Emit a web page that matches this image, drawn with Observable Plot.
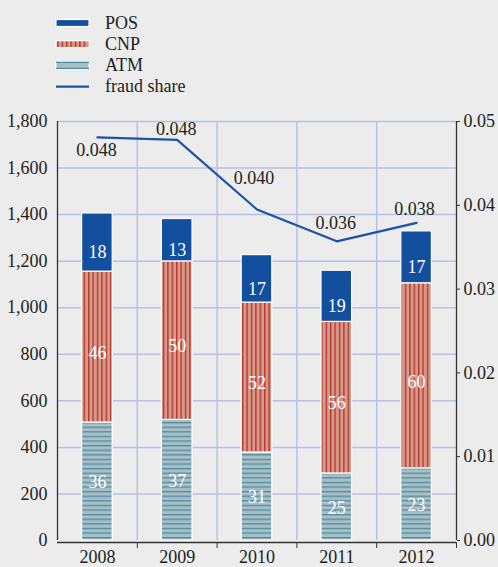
<!DOCTYPE html>
<html>
<head>
<meta charset="utf-8">
<script src="https://cdn.jsdelivr.net/npm/d3@7"></script>
<script src="https://cdn.jsdelivr.net/npm/@observablehq/plot@0.6"></script>
<style>
  html, body { margin: 0; padding: 0; background: #ebeceb; }
  body { width: 498px; height: 567px; overflow: hidden; font-family: "Liberation Serif", serif; }
  #legend, #chart svg { display: block; }
  svg text { font-family: "Liberation Serif", serif !important; }
</style>
</head>
<body>
<svg id="defs" width="0" height="0" style="position:absolute">
  <defs>
    <pattern id="cnpPat" patternUnits="userSpaceOnUse" width="4.4" height="10">
      <rect width="4.4" height="10" fill="#d9998a"></rect>
      <rect x="0" width="1.4" height="10" fill="#b2392d"></rect>
    </pattern>
    <pattern id="atmPat" patternUnits="userSpaceOnUse" width="10" height="4.6">
      <rect width="10" height="4.6" fill="#a9bfc8"></rect>
      <rect y="0" width="10" height="1.3" fill="#4f8c9c"></rect>
    </pattern>
  </defs>
</svg>
<svg id="legend" width="498" height="100"></svg>
<div id="chart"></div>
<script>
// ---- data ----
const years = [2008, 2009, 2010, 2011, 2012];
const series = ["ATM", "CNP", "POS"];
const atmValues = [507, 518, 378, 288, 310];
const cnpValues = [648, 681, 644, 651, 795];
const posValues = [250, 182, 204, 220, 223];
const atmShare = [36, 37, 31, 25, 23];
const cnpShare = [46, 50, 52, 56, 60];
const posShare = [18, 13, 17, 19, 17];
const fraudShare = [0.0481, 0.0478, 0.0395, 0.0357, 0.0379];
const fraudLabels = ["0.048", "0.048", "0.040", "0.036", "0.038"];
const leftTicks = [0, 200, 400, 600, 800, 1000, 1200, 1400, 1600, 1800];
const rightTicks = [0, 0.01, 0.02, 0.03, 0.04, 0.05];
const legendItems = ["POS", "CNP", "ATM", "fraud share"];

// ---- styles ----
const colors = { POS: "#134f9f", CNP: "url(#cnpPat)", ATM: "url(#atmPat)", line: "#1d52a8", grid: "#b8c0e8", axis: "#333" };
const font = "Liberation Serif";
const k = leftTicks[leftTicks.length - 1] / rightTicks[rightTicks.length - 1]; // right -> left scale

// ---- build tables ----
const wide = years.map((y, i) => ({ year: y, ATM: atmValues[i], CNP: cnpValues[i], POS: posValues[i] }));
const shares = { ATM: atmShare, CNP: cnpShare, POS: posShare };
const stacked = d3.stack().keys(series)(wide);
const rows = stacked.flatMap(layer => layer.map((s, i) => ({
  year: years[i], series: layer.key, y1: s[0], y2: s[1], share: shares[layer.key][i]
})));
const lineData = years.map((y, i) => ({ year: y, v: fraudShare[i] * k, label: fraudLabels[i] }));
const boundaries = years.map(y => y + 0.5);
const labelDy = [13, -11, -31, -18, -14];
const labelDx = [-1, -1, -3, -1, -2];
const textDy = { POS: 10, CNP: 6, ATM: 1 };

const chart = Plot.plot({
  width: 498,
  height: 467,
  marginTop: 21,
  marginBottom: 27,
  marginLeft: 57,
  marginRight: 42,
  style: { background: "transparent", fontFamily: font, fontSize: "18px", color: "#222" },
  x: { type: "linear", domain: [years[0] - 0.5, years[years.length - 1] + 0.5] },
  y: { domain: [0, 1800] },
  color: { type: "ordinal", domain: series, range: series.map(s => colors[s]) },
  marks: [
    Plot.ruleY(leftTicks.slice(1), { stroke: colors.grid, strokeWidth: 1.5 }),
    Plot.ruleX(boundaries.slice(0, -1), { y1: 0, y2: 1800, stroke: colors.grid, strokeWidth: 1.5 }),
    Plot.rect(rows, {
      x1: d => d.year - 0.5, x2: d => d.year + 0.5, y1: "y1", y2: "y2",
      fill: "series", stroke: "white", strokeWidth: 1.2, insetLeft: 24.6, insetRight: 24.6
    }),
    ...series.map(s => Plot.text(rows.filter(d => d.series === s), {
      x: "year", y: d => (d.y1 + d.y2) / 2, text: d => String(d.share),
      fill: "white", fontSize: 18, fontFamily: font, dy: textDy[s]
    })),
    Plot.line(lineData, { x: "year", y: "v", stroke: colors.line, strokeWidth: 2.2 }),
    ...lineData.map((d, i) => Plot.text([d], {
      x: "year", y: "v", text: "label", fill: "#222", fontSize: 18, fontFamily: font, dy: labelDy[i], dx: labelDx[i]
    })),
    Plot.ruleY([0], { stroke: colors.axis, strokeWidth: 1.3, dy: 2 }),
    Plot.ruleX([years[0] - 0.5, years[years.length - 1] + 0.5], { y1: 0, y2: 1800, stroke: colors.axis, strokeWidth: 1.3 }),
    Plot.axisY({ anchor: "left", ticks: leftTicks, tickFormat: d3.format(","), tickSize: 0, tickPadding: 10, label: null, fill: "#222", fontFamily: font }),
    Plot.axisY({ anchor: "right", ticks: rightTicks.map(v => v * k), tickFormat: d => (d / k).toFixed(2), tickSize: 3, tickPadding: 4, label: null, fill: "#222", stroke: colors.axis, fontFamily: font }),
    Plot.axisX({ ticks: years, tickFormat: d => String(d), tickSize: 0, tickPadding: 10, label: null, fill: "#222", fontFamily: font }),
    Plot.axisX({ ticks: boundaries, tickFormat: () => "", tickSize: 6, label: null, stroke: colors.axis, dy: 2 })
  ]
});
document.getElementById("chart").appendChild(chart);

// ---- legend ----
const lg = d3.select("#legend");
const rowY = i => 23 + i * 21.2;
legendItems.forEach((name, i) => {
  const g = lg.append("g").attr("transform", `translate(0,${rowY(i)})`);
  if (name === "POS") {
    g.append("rect").attr("x", 56).attr("y", -3.5).attr("width", 33).attr("height", 7)
      .attr("fill", colors.POS).attr("stroke", "white").attr("stroke-width", 1.2);
  } else if (name === "CNP") {
    g.append("rect").attr("x", 56).attr("y", -3.5).attr("width", 33).attr("height", 7)
      .attr("fill", colors.CNP).attr("stroke", "white").attr("stroke-width", 1.2);
  } else if (name === "ATM") {
    g.append("rect").attr("x", 56).attr("y", -3.5).attr("width", 33).attr("height", 7)
      .attr("fill", "#a9bfc8").attr("stroke", "white").attr("stroke-width", 1);
    g.append("line").attr("x1", 56).attr("x2", 89).attr("y1", -3).attr("y2", -3).attr("stroke", "#4f8c9c").attr("stroke-width", 1.2);
    g.append("line").attr("x1", 56).attr("x2", 89).attr("y1", 3).attr("y2", 3).attr("stroke", "#4f8c9c").attr("stroke-width", 1.2);
  } else {
    g.append("line").attr("x1", 56).attr("x2", 89).attr("y1", 0).attr("y2", 0)
      .attr("stroke", colors.line).attr("stroke-width", 2.2);
  }
  g.append("text").attr("x", 105).attr("y", 0).attr("dy", "0.32em")
    .attr("font-family", font).attr("font-size", 18).attr("fill", "#222").text(name);
});
</script>
</body>
</html>
